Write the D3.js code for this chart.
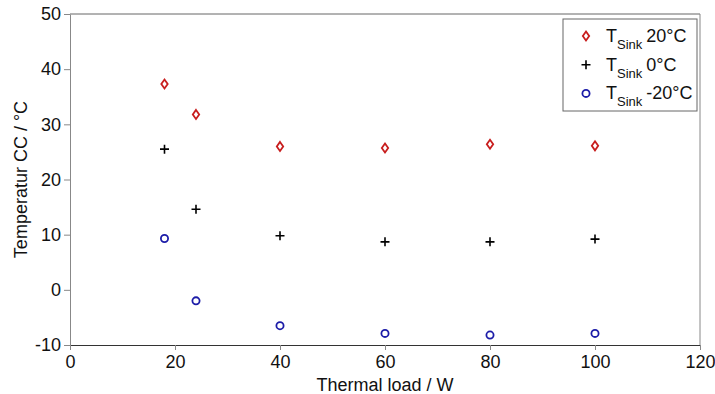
<!DOCTYPE html>
<html>
<head>
<meta charset="utf-8">
<script src="https://cdn.jsdelivr.net/npm/d3@7"></script>
<style>
  body { margin: 0; background: #fff; }
  svg { font-family: "Liberation Sans", Arial, sans-serif; }
</style>
</head>
<body>
<svg width="715" height="394"></svg>
<script>
// Thermal load in W
const loads = [18, 24, 40, 60, 80, 100];
// Temperature CC for each sink temperature
const sink20 = [37.3, 31.8, 26.0, 25.7, 26.4, 26.1];
const sink0 = [25.5, 14.6, 9.8, 8.7, 8.7, 9.2];
const sinkMinus20 = [9.3, -2.0, -6.5, -7.9, -8.2, -7.9];
const seriesNames = ['20°C', '0°C', '-20°C'];
const xTicks = [0, 20, 40, 60, 80, 100, 120];
const yTicks = [-10, 0, 10, 20, 30, 40, 50];

const margin = { left: 70, right: 15, top: 14, bottom: 49 };
const svg = d3.select('svg');
const width = 715 - margin.left - margin.right;
const height = 394 - margin.top - margin.bottom;

const x = d3.scaleLinear().domain([0, 120]).range([0, width]);
const y = d3.scaleLinear().domain([-10, 50]).range([height, 0]);

const g = svg.append('g').attr('transform', `translate(${margin.left}, ${margin.top})`);

// frame (top + right)
g.append('line').attr('x1', 0).attr('x2', width).attr('y1', 0).attr('y2', 0)
  .attr('stroke', '#666').attr('stroke-width', 1);
g.append('line').attr('x1', width).attr('x2', width).attr('y1', 0).attr('y2', height)
  .attr('stroke', '#888').attr('stroke-width', 1);

// axes (plain hyphen for negatives, like the original)
const fmt = d => String(d);
const xAxis = g.append('g')
  .attr('transform', `translate(0, ${height})`)
  .call(d3.axisBottom(x).tickValues(xTicks).tickFormat(fmt).tickSizeInner(5).tickSizeOuter(0).tickPadding(5));
xAxis.select('.domain').attr('stroke', '#333');
xAxis.selectAll('.tick line').attr('stroke', '#888');

const yAxis = g.append('g')
  .call(d3.axisLeft(y).tickValues(yTicks).tickFormat(fmt).tickSizeInner(6).tickSizeOuter(0).tickPadding(3));
yAxis.select('.domain').attr('stroke', '#888');
yAxis.selectAll('.tick line').attr('stroke', '#888');

svg.selectAll('.tick text').attr('font-size', 18).attr('fill', '#111')
  .attr('font-family', '"Liberation Sans", Arial, sans-serif');

// axis titles
svg.append('text')
  .attr('x', margin.left + x(60)).attr('y', 391)
  .attr('text-anchor', 'middle').attr('font-size', 18).attr('fill', '#111')
  .text('Thermal load / W');
svg.append('text')
  .attr('transform', `translate(27, ${margin.top + height / 2}) rotate(-90)`)
  .attr('text-anchor', 'middle').attr('font-size', 18).attr('fill', '#111')
  .text('Temperatur CC / °C');

// marker shapes
const markers = [
  { color: '#c81e1e', path: 'M0,-4.5L3.2,0L0,4.5L-3.2,0Z', sw: 1.8 },
  { color: '#000', path: 'M-4.5,0H4.5M0,-4.5V4.5', sw: 1.6 },
  { color: '#1c1ca8', path: 'M3.6,0A3.6,3.6 0 1,1 -3.6,0A3.6,3.6 0 1,1 3.6,0Z', sw: 1.8 }
];
const series = [sink20, sink0, sinkMinus20];

series.forEach((vals, i) => {
  const m = markers[i];
  g.selectAll(`.pt${i}`)
    .data(loads.map((l, j) => ({ load: l, temp: vals[j] })))
    .enter()
    .append('path')
    .attr('class', `pt${i}`)
    .attr('d', m.path)
    .attr('transform', d => `translate(${x(d.load)}, ${y(d.temp)})`)
    .attr('fill', 'none')
    .attr('stroke', m.color)
    .attr('stroke-width', m.sw);
});

// legend
const legend = svg.append('g').attr('transform', 'translate(563, 19)');
legend.append('rect').attr('width', 134).attr('height', 92)
  .attr('fill', '#fff').attr('stroke', '#666').attr('stroke-width', 1);
seriesNames.forEach((name, i) => {
  const row = legend.append('g').attr('transform', `translate(0, ${17 + i * 28.7})`);
  row.append('path').attr('d', markers[i].path)
    .attr('transform', 'translate(23, 0)')
    .attr('fill', 'none').attr('stroke', markers[i].color).attr('stroke-width', markers[i].sw);
  const t = row.append('text').attr('x', 43).attr('y', 6).attr('font-size', 18).attr('fill', '#111');
  t.append('tspan').text('T');
  t.append('tspan').attr('font-size', 13).attr('dy', 7).text('Sink');
  t.append('tspan').attr('dy', -7).attr('dx', 4).text(name);
});
</script>
</body>
</html>
